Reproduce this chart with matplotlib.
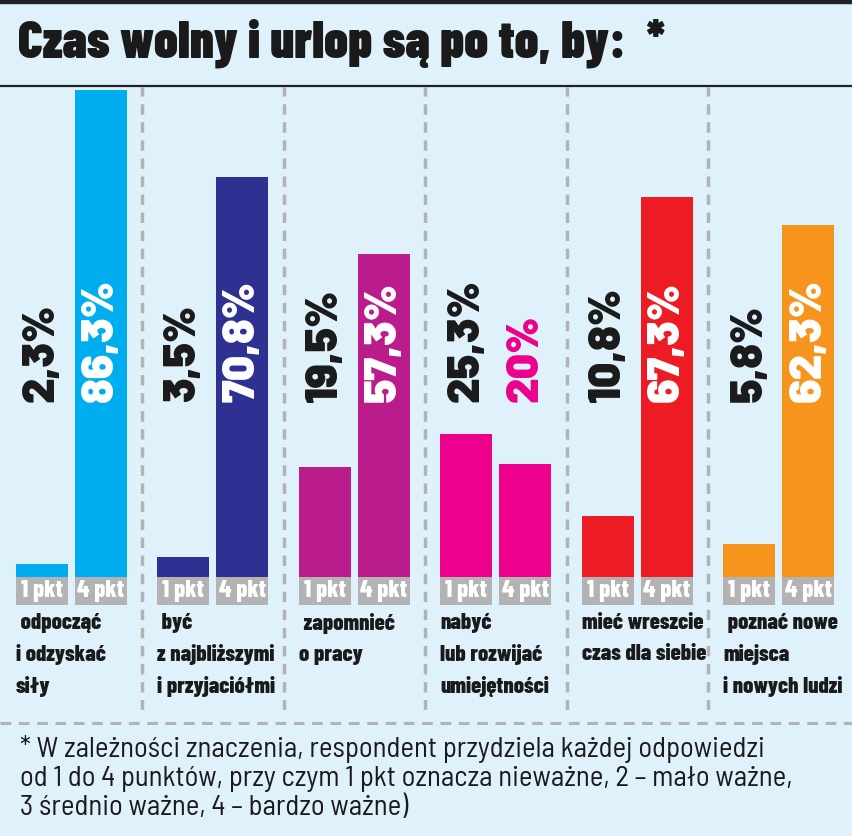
import matplotlib.pyplot as plt
from matplotlib.lines import Line2D
from matplotlib.patches import Rectangle

# dane z wykresu
categories = [
    ' odpocząć\ni odzyskać\nsiły',
    ' być\nz najbliższymi\ni przyjaciółmi',
    ' zapomnieć\no pracy',
    'nabyć\nlub rozwijać\numiejętności',
    'mieć wreszcie\nczas dla siebie',
    ' poznać nowe\nmiejsca\ni nowych ludzi',
]
pct_1pkt = [2.3, 3.5, 19.5, 25.3, 10.8, 5.8]
pct_4pkt = [86.3, 70.8, 57.3, 20.0, 67.3, 62.3]
labels_1pkt = ['2,3%', '3,5%', '19,5%', '25,3%', '10,8%', '5,8%']
labels_4pkt = ['86,3%', '70,8%', '57,3%', '20%', '67,3%', '62,3%']
colors = ['#00aeef', '#2e3192', '#bb1c8b', '#ec008c', '#ed1c24', '#f7941d']

title = 'Czas wolny i urlop są po to, by:  *'
footnote = [
    '* W zależności znaczenia, respondent przydziela każdej odpowiedzi',
    'od 1 do 4 punktów, przy czym 1 pkt oznacza nieważne, 2 – mało ważne,',
    '3 średnio ważne, 4 – bardzo ważne)',
]

BG = '#dff2fc'
GRAY = '#b3b3b3'
INK = '#1a1a1a'
COND = ['Barlow Condensed', 'DejaVu Sans']
SEMI = ['Barlow Semi Condensed', 'DejaVu Sans']
WIDE = ['Barlow', 'DejaVu Sans']

W, H = 852, 836
fig = plt.figure(figsize=(W / 100, H / 100), dpi=100, facecolor=BG)

# obszar słupków: od linii pod tytułem do przerywanej linii nad przypisem
ax = fig.add_axes([0, 1 - 710 / H, 1, (710 - 87) / H])
ax.set_facecolor(BG)
ax.set_xlim(-0.505, 5.516)
ax.set_ylim(-23.57, 86.83)
ax.axis('off')

xs = list(range(len(categories)))
off, bw = 0.2085, 0.3675
x1 = [x - off for x in xs]
x4 = [x + off for x in xs]
ax.bar(x1, pct_1pkt, width=bw, color=colors)
ax.bar(x4, pct_4pkt, width=bw, color=colors)

# szare etykiety "1 pkt" / "4 pkt"
box_h = 28 / 5.643
ax.bar(x1 + x4, [-box_h] * 12, width=bw, color=GRAY)
for x in x1:
    ax.text(x, -box_h / 2, '1 pkt', color='white', fontsize=17.5, fontweight=800,
            family=COND, ha='center', va='center')
for x in x4:
    ax.text(x, -box_h / 2, '4 pkt', color='white', fontsize=17.5, fontweight=800,
            family=COND, ha='center', va='center')

# wartości procentowe (pionowo)
text_y = 31.0
for i in xs:
    ax.text(x1[i], text_y, labels_1pkt[i], rotation=90, ha='center', va='bottom',
            fontsize=32, fontweight=900, color=INK, family=WIDE)
    inside = pct_4pkt[i] > text_y + 24
    ax.text(x4[i], text_y, labels_4pkt[i], rotation=90, ha='center', va='bottom',
            fontsize=32, fontweight=900, color='white' if inside else colors[i],
            family=WIDE)

# opisy kategorii
for i in xs:
    ax.text(x1[i] - bw / 2, -box_h - 1.5, categories[i], ha='left', va='top',
            fontsize=16.5, fontweight=800, color=INK, family=COND,
            linespacing=1.64)

# przerywane separatory między grupami
for i in xs[:-1]:
    ax.axvline(i + 0.5, color=GRAY, lw=2.5, dashes=(3, 2.2))

# tytuł i ramki
fig.add_artist(Rectangle((0, 1 - 3 / H), 1, 3 / H, transform=fig.transFigure,
                         color='#222222'))
fig.text(18 / W, 1 - 57 / H, title, fontsize=37.5, fontweight=900, color=INK,
         family=COND, va='baseline')
fig.add_artist(Line2D([0, 1], [1 - 86 / H] * 2, transform=fig.transFigure,
                      color='#222222', lw=1.6))
fig.add_artist(Line2D([0, 1], [1 - 723 / H] * 2, transform=fig.transFigure,
                      color=GRAY, lw=2.2, dashes=(3.5, 2.5)))

# przypis
for k, line in enumerate(footnote):
    fig.text(20 / W, 1 - (757 + 29 * k) / H, line, fontsize=20.7, color=INK, family=SEMI,
             va='baseline')

fig.savefig('out.png', dpi=100, facecolor=BG)
